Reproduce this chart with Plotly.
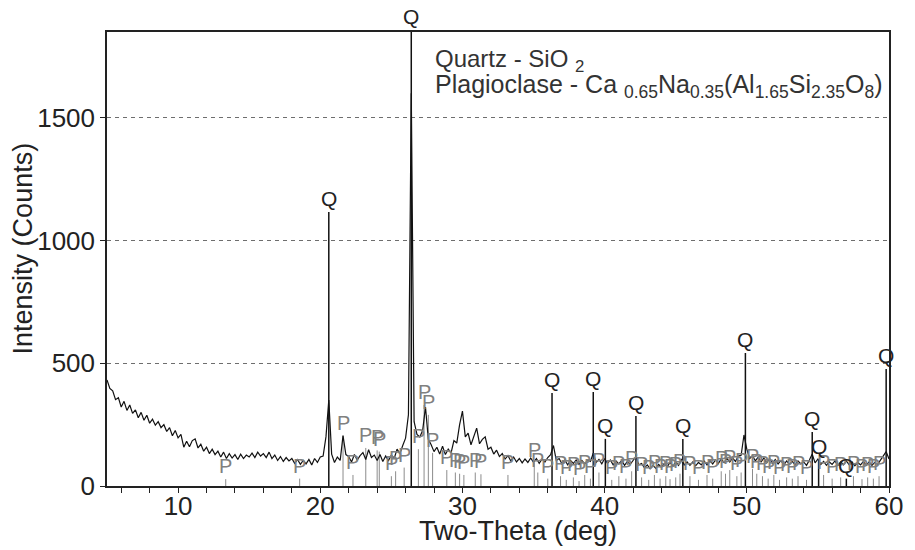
import plotly.graph_objects as go

# ---------------- data ----------------
theta_start = 5.0
theta_step = 0.2
intensity = [
    432, 398, 388, 352, 360,
    322, 345, 308, 330, 296,
    310, 278, 300, 268, 288,
    256, 272, 248, 262, 238,
    250, 222, 238, 205, 226,
    196, 210, 158, 182, 160,
    185, 192, 155, 170, 142,
    158, 132, 150, 128, 142,
    118, 138, 112, 132, 114,
    128, 108, 130, 112, 126,
    118, 134, 116, 138, 122,
    132, 116, 138, 112, 126,
    104, 120, 100, 116, 102,
    112, 92, 108, 88, 104,
    90, 108, 86, 112, 96,
    118, 122, 200, 350, 130,
    96, 118, 104, 205, 128,
    120, 98, 128, 106, 124,
    136, 108, 148, 116, 126,
    104, 128, 100, 122, 104,
    126, 112, 150, 132, 165,
    195, 290, 1600, 262, 210,
    200, 226, 322, 190, 168,
    140, 158, 130, 162, 128,
    150, 135, 185, 175, 250,
    305, 200, 215, 168, 198,
    236, 172, 190, 200, 150,
    158, 130, 146, 120, 132,
    110, 124, 102, 118, 98,
    112, 94, 110, 96, 114,
    96, 112, 92, 110, 98,
    116, 128, 165, 104, 112,
    90, 106, 86, 104, 92,
    106, 88, 104, 90, 106,
    100, 134, 96, 108, 90,
    112, 92, 106, 86, 102,
    90, 104, 84, 100, 88,
    104, 120, 86, 92, 74,
    86, 70, 84, 72, 88,
    76, 92, 78, 96, 82,
    98, 84, 110, 86, 98,
    84, 98, 82, 96, 86,
    102, 86, 104, 90, 106,
    92, 110, 96, 112, 98,
    114, 100, 122, 125, 208,
    150, 112, 124, 102, 118,
    98, 114, 94, 112, 92,
    108, 90, 104, 86, 102,
    88, 100, 86, 102, 90,
    98, 84, 106, 130, 94,
    110, 88, 100, 84, 98,
    88, 102, 84, 98, 86,
    102, 86, 98, 82, 96,
    86, 100, 84, 98, 84,
    96, 88, 104, 120, 140,
    110,
]
two_theta = [round(theta_start + theta_step * i, 2) for i in range(len(intensity))]

# Quartz reference sticks
q_pos = [20.6, 26.4, 36.3, 39.2, 40.05, 42.2, 45.5, 49.9, 54.6, 55.05, 57.0, 59.8]
q_height = [1117, 1865, 379, 383, 192, 285, 192, 542, 220, 105, 30, 477]

# Plagioclase reference sticks
p_pos = [13.35, 18.55, 21.6, 22.3, 23.2, 24.0, 24.15, 25.0, 25.3, 25.9,
         26.9, 27.3, 27.6, 27.9, 28.9, 29.5, 29.8, 30.1, 30.9, 31.3,
         33.2, 35.05, 35.3, 36.0, 36.9, 37.3, 37.8, 38.2, 38.6, 39.0,
         39.6, 40.5, 41.0, 41.5, 41.9, 42.6, 43.1, 43.5, 43.9, 44.3,
         44.6, 45.0, 45.3, 46.0, 46.6, 47.2, 47.6, 48.2, 48.5, 48.8,
         49.3, 49.6, 50.4, 50.7, 51.1, 51.5, 51.9, 52.3, 52.8, 53.2,
         53.6, 54.2, 55.4, 56.0, 56.6, 57.5, 58.1, 58.5, 58.9, 59.3]
p_height = [28, 30, 205, 45, 155, 145, 140, 40, 60, 75,
            150, 330, 290, 135, 65, 55, 50, 45, 55, 48,
            45, 95, 55, 30, 40, 25, 35, 20, 45, 30,
            55, 25, 40, 30, 60, 35, 25, 45, 30, 40,
            28, 35, 50, 40, 25, 45, 30, 60, 50, 65,
            40, 55, 70, 50, 40, 30, 45, 25, 35, 30,
            40, 25, 45, 30, 35, 40, 28, 35, 30, 40]

x_ticks_major = [10, 20, 30, 40, 50, 60]
y_ticks = [0, 500, 1000, 1500]
y_max = 1850

legend_line1 = "Quartz - SiO <sub>2</sub>"
legend_line2 = ("Plagioclase - Ca <sub>0.65</sub>Na<sub>0.35</sub>(Al<sub>1.65</sub>"
                "Si<sub>2.35</sub>O<sub>8</sub>)")
x_title = "Two-Theta (deg)"
y_title = "Intensity (Counts)"

FONT = "Liberation Sans, Arial, sans-serif"
TXT = "#222222"


def stick_xy(pos, h):
    xs, ys = [], []
    for p, v in zip(pos, h):
        xs += [p, p, None]
        ys += [0, v, None]
    return xs, ys


fig = go.Figure()

px_, py_ = stick_xy(p_pos, p_height)
fig.add_trace(go.Scatter(x=px_, y=py_, mode="lines",
                         line=dict(color="#8c8c8c", width=1), hoverinfo="skip"))

fig.add_trace(go.Scatter(x=two_theta, y=intensity, mode="lines",
                         line=dict(color="#111111", width=1.2)))

qx_, qy_ = stick_xy(q_pos, q_height)
fig.add_trace(go.Scatter(x=qx_, y=qy_, mode="lines",
                         line=dict(color="#111111", width=1.5), hoverinfo="skip"))

annotations = []
for p, v in zip(p_pos, p_height):
    annotations.append(dict(x=p, y=v, xref="x", yref="y", text="P", showarrow=False,
                            yanchor="bottom", xanchor="center",
                            font=dict(family=FONT, size=20, color="#808080")))
for p, v in zip(q_pos, q_height):
    yv = min(v, y_max)
    annotations.append(dict(x=p, y=yv, xref="x", yref="y", text="Q", showarrow=False,
                            yanchor="bottom", xanchor="center",
                            yshift=2 if v > y_max else 0,
                            font=dict(family=FONT, size=21, color="#222222")))
annotations.append(dict(x=0.417, y=0.938, xref="paper", yref="paper", text=legend_line1,
                        showarrow=False, xanchor="left", yanchor="middle", align="left",
                        font=dict(family=FONT, size=24, color="#333333")))
annotations.append(dict(x=0.417, y=0.881, xref="paper", yref="paper", text=legend_line2,
                        showarrow=False, xanchor="left", yanchor="middle", align="left",
                        font=dict(family=FONT, size=25, color="#333333")))
annotations.append(dict(x=0.526, y=-0.1, xref="paper", yref="paper", text=x_title,
                        showarrow=False, xanchor="center", yanchor="middle",
                        font=dict(family=FONT, size=27, color=TXT)))
annotations.append(dict(x=-0.107, y=0.524, xref="paper", yref="paper", text=y_title,
                        showarrow=False, xanchor="center", yanchor="middle", textangle=-90,
                        font=dict(family=FONT, size=27, color=TXT)))

fig.update_layout(
    width=915, height=550,
    margin=dict(l=107, r=17, t=32, b=64),
    paper_bgcolor="white", plot_bgcolor="white",
    showlegend=False,
    annotations=annotations,
    font=dict(family=FONT, color=TXT),
)

fig.update_xaxes(
    range=[5, 60], tickmode="array", tickvals=x_ticks_major,
    ticks="outside", ticklen=5, tickcolor="#222", tickwidth=1,
    ticklabelstandoff=-9,
    minor=dict(dtick=2, tick0=0, ticks="outside", ticklen=5, tickcolor="#222"),
    showline=True, linecolor="#222", linewidth=1.5, mirror=True,
    showgrid=False, zeroline=False,
    tickfont=dict(family=FONT, size=26, color=TXT),
)
fig.update_yaxes(
    range=[0, y_max], tickmode="array", tickvals=y_ticks,
    ticks="outside", ticklen=5, tickcolor="#222", tickwidth=1,
    showline=True, linecolor="#222", linewidth=1.5, mirror=True,
    showgrid=True, gridcolor="#6e6e6e", gridwidth=1, griddash="4px,4px",
    zeroline=False,
    tickfont=dict(family=FONT, size=26, color=TXT),
)

fig.write_html("out.html")
